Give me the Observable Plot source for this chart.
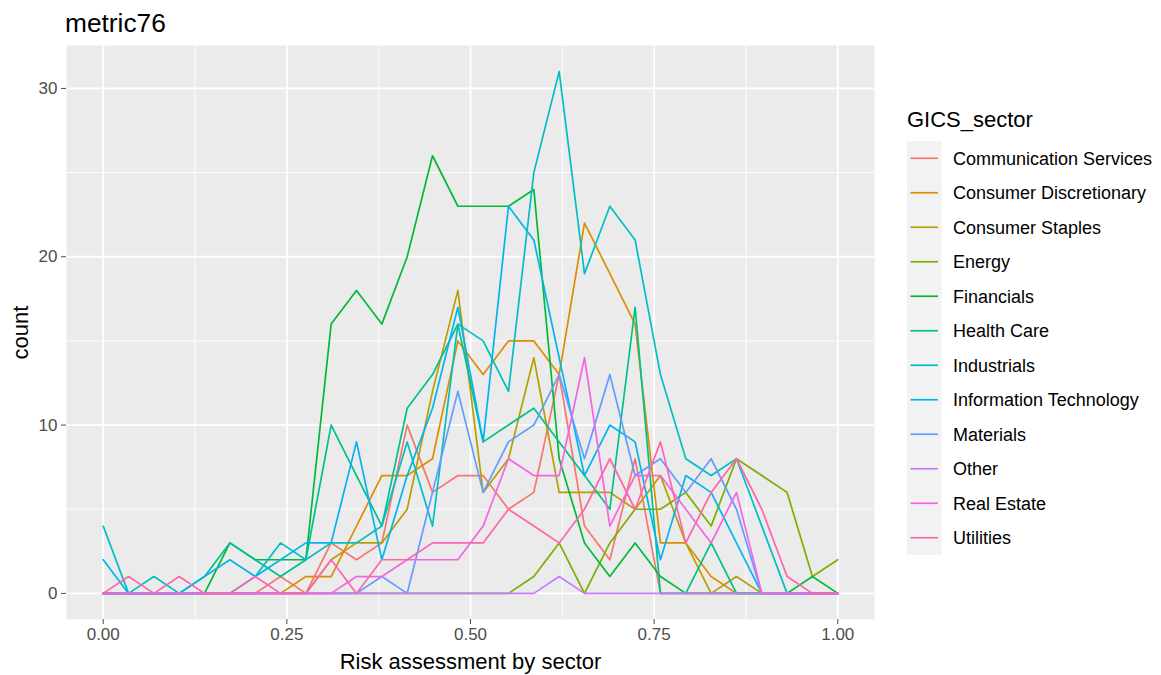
<!DOCTYPE html>
<html><head><meta charset="utf-8">
<script src="https://cdn.jsdelivr.net/npm/d3@7"></script>
<script src="https://cdn.jsdelivr.net/npm/@observablehq/plot@0.6"></script>
<style>
body{margin:0;background:#fff;font-family:"Liberation Sans",Arial,sans-serif;}
#wrap{position:relative;width:1161px;height:675px;overflow:hidden;}
#title{position:absolute;left:65px;top:10px;font-size:26.3px;line-height:26px;color:#000;white-space:nowrap;}
#chart{position:absolute;left:0;top:45px;}
#legend{position:absolute;left:895px;top:95px;}
</style></head><body>
<div id="wrap"><div id="title">metric76</div><div id="chart"></div><div id="legend"></div></div>
<script>
const titleText = "metric76";
const xLabel = "Risk assessment by sector";
const yLabel = "count";
const legendTitle = "GICS_sector";
const sectors = ["Communication Services","Consumer Discretionary","Consumer Staples","Energy","Financials","Health Care","Industrials","Information Technology","Materials","Other","Real Estate","Utilities"];
const colors = ["#F8766D","#DE8C00","#B79F00","#7CAE00","#00BA38","#00C08B","#00BFC4","#00B4F0","#619CFF","#C77CFF","#F564E3","#FF64B0"];
const binCenters = [0,0.0345,0.069,0.1034,0.1379,0.1724,0.2069,0.2414,0.2759,0.3103,0.3448,0.3793,0.4138,0.4483,0.4828,0.5172,0.5517,0.5862,0.6207,0.6552,0.6897,0.7241,0.7586,0.7931,0.8276,0.8621,0.8966,0.931,0.9655,1];
const commServices = [0,0,0,0,0,0,0,1,0,3,2,3,10,6,7,7,5,6,13,4,2,8,0,0,0,0,0,0,0,0];
const consDiscretionary = [0,0,0,0,0,0,0,0,1,1,4,7,7,8,15,13,15,15,13,22,19,16,3,3,1,0,0,0,0,0];
const consStaples = [0,0,0,0,0,0,0,0,0,2,3,3,5,12,18,6,8,14,6,6,6,5,7,3,0,1,0,0,0,0];
const energy = [0,0,0,0,0,0,0,0,0,0,0,0,0,0,0,0,0,1,3,0,3,5,5,6,4,8,7,6,1,2];
const financials = [0,0,0,0,0,3,2,2,2,16,18,16,20,26,23,23,23,24,8,3,1,3,1,0,0,0,0,0,1,0];
const healthCare = [0,0,0,0,1,3,2,1,2,10,7,4,11,13,16,9,10,11,9,7,5,17,0,0,3,0,0,0,0,0];
const industrials = [4,0,1,0,0,0,1,3,2,3,3,4,9,4,16,15,12,25,31,19,23,21,13,8,7,8,4,0,0,0];
const infoTech = [2,0,0,0,1,2,1,2,3,3,9,2,7,11,17,9,23,21,14,7,10,9,2,7,6,3,0,0,0,0];
const materials = [0,0,0,0,0,0,0,0,0,0,0,1,0,6,12,6,9,10,13,8,13,7,8,6,8,5,0,0,0,0];
const other = [0,0,0,0,0,0,0,0,0,0,0,0,0,0,0,0,0,0,1,0,0,0,0,0,0,0,0,0,0,0];
const realEstate = [0,0,0,0,0,0,0,0,0,0,1,1,2,2,2,4,8,7,7,14,4,7,7,5,3,6,0,0,0,0];
const utilities = [0,1,0,1,0,0,1,0,0,2,0,2,2,3,3,3,5,4,3,5,8,5,9,3,6,8,5,1,0,0];
const xTicks = [0,0.25,0.5,0.75,1];
const xTickLabels = ["0.00","0.25","0.50","0.75","1.00"];
const yTicks = [0,10,20,30];

const series = [commServices,consDiscretionary,consStaples,energy,financials,healthCare,industrials,infoTech,materials,other,realEstate,utilities];
const data = sectors.flatMap((s,i)=>series[i].map((c,k)=>({x:binCenters[k],count:c,sector:s})));

document.getElementById("title").textContent = titleText;
const font = '"Liberation Sans", Arial, sans-serif';
const plot = Plot.plot({
  width:1161, height:630,
  marginTop:0, marginBottom:56, marginLeft:66, marginRight:287,
  style:{fontFamily:font, background:"transparent"},
  x:{domain:[-0.05,1.05]},
  y:{domain:[-1.55,32.55]},
  color:{domain:sectors, range:colors},
  marks:[
    Plot.frame({fill:"#EBEBEB", stroke:"none"}),
    Plot.gridX([0.125,0.375,0.625,0.875],{stroke:"white",strokeOpacity:1,strokeWidth:0.9}),
    Plot.gridY([5,15,25],{stroke:"white",strokeOpacity:1,strokeWidth:0.9}),
    Plot.gridX(xTicks,{stroke:"white",strokeOpacity:1,strokeWidth:1.8}),
    Plot.gridY(yTicks,{stroke:"white",strokeOpacity:1,strokeWidth:1.8}),
    Plot.line(data,{x:"x",y:"count",z:"sector",stroke:"sector",strokeWidth:1.7}),
    Plot.axisX({ticks:xTicks, tickFormat:(d)=>xTickLabels[xTicks.indexOf(d)], tickSize:5, tickPadding:3, fontSize:17, color:"#4D4D4D", label:null}),
    Plot.axisY({ticks:yTicks, tickSize:5, tickPadding:4, fontSize:17, color:"#4D4D4D", label:null}),
    Plot.text([xLabel],{text:d=>d, frameAnchor:"bottom", lineAnchor:"middle", dy:42, fontSize:22, fill:"#000"}),
    Plot.text([yLabel],{text:d=>d, frameAnchor:"left", textAnchor:"middle", lineAnchor:"middle", dx:-46, rotate:-90, fontSize:22, fill:"#000"})
  ]
});
document.getElementById("chart").appendChild(plot);

// legend
const lg = d3.select("#legend").append("svg").attr("width",266).attr("height",480).style("font-family",font);
lg.append("text").attr("x",12).attr("y",32).attr("font-size",22).attr("fill","#000").text(legendTitle);
const ks = 34.5;
sectors.forEach((s,i)=>{
  const y0 = 46 + i*ks;
  lg.append("rect").attr("x",12).attr("y",y0).attr("width",ks).attr("height",ks).attr("fill","#F2F2F2");
  lg.append("line").attr("x1",15.5).attr("x2",12+ks-3.5).attr("y1",y0+ks/2).attr("y2",y0+ks/2).attr("stroke",colors[i]).attr("stroke-width",1.7);
  lg.append("text").attr("x",58).attr("y",y0+ks/2).attr("dy","0.35em").attr("font-size",18).attr("fill","#000").text(s);
});
</script>
</body></html>
